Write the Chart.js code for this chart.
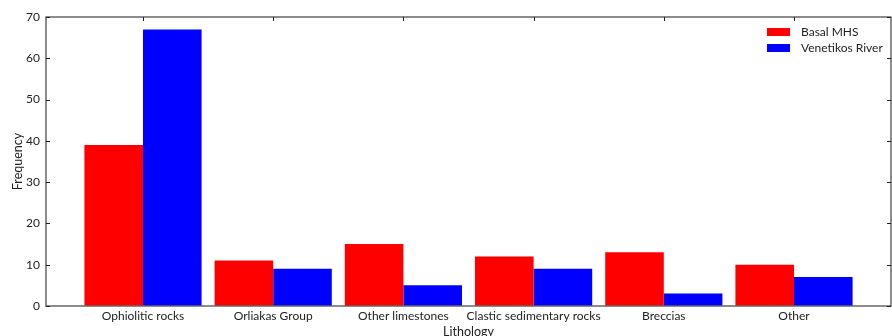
<!DOCTYPE html>
<html>
<head>
<meta charset="utf-8">
<script src="https://cdn.jsdelivr.net/npm/chart.js@4"></script>
<style>
  html, body { margin: 0; padding: 0; background: #fff; }
  #wrap { width: 892px; height: 336px; }
</style>
</head>
<body>
<div id="wrap"><canvas id="myChart" width="892" height="336"></canvas></div>
<script>
const categories = ["Ophiolitic rocks", "Orliakas Group", "Other limestones", "Clastic sedimentary rocks", "Breccias", "Other"];
const basalMHS = [39, 11, 15, 12, 13, 10];
const venetikosRiver = [67, 9, 5, 9, 3, 7];
const yTicks = [0, 10, 20, 30, 40, 50, 60, 70];

const fontFamily = "Lato, 'DejaVu Sans', sans-serif";
const textColor = "#222";
const spineColor = "#666";

Chart.defaults.font.family = fontFamily;
Chart.defaults.font.size = 12;
Chart.defaults.color = textColor;

// 枠線、内向きの目盛り、凡例を描く
const framePlugin = {
  id: "frame",
  afterDatasetsDraw(chart) {
    const c = chart.ctx;
    const a = chart.chartArea;
    const xs = chart.scales.x;
    const ys = chart.scales.y;
    c.save();
    c.strokeStyle = spineColor;
    c.lineWidth = 1.5;
    c.strokeRect(a.left, a.top, a.right - a.left, a.bottom - a.top);
    c.lineWidth = 1;
    c.strokeStyle = "#222";
    c.beginPath();
    yTicks.forEach(function (v) {
      const y = Math.round(ys.getPixelForValue(v)) + 0.5;
      c.moveTo(a.left, y);
      c.lineTo(a.left + 4, y);
      c.moveTo(a.right, y);
      c.lineTo(a.right - 4, y);
    });
    categories.forEach(function (_, i) {
      const x = Math.round(xs.getPixelForValue(i)) + 0.5;
      c.moveTo(x, a.top);
      c.lineTo(x, a.top + 4);
    });
    c.stroke();

    // 凡例
    const lx = a.right - 124;
    let ly = a.top + 11;
    chart.data.datasets.forEach(function (ds) {
      c.fillStyle = ds.backgroundColor;
      c.fillRect(lx, ly, 23, 8);
      c.fillStyle = textColor;
      c.font = "12px " + fontFamily;
      c.textBaseline = "middle";
      c.textAlign = "left";
      c.fillText(ds.label, lx + 34, ly + 4);
      ly += 16;
    });
    c.restore();
  },
};

const ctx = document.getElementById("myChart").getContext("2d");
const myChart = new Chart(ctx, {
  type: "bar",
  data: {
    datasets: [
      {
        label: "Basal MHS",
        data: basalMHS.map(function (v, i) { return { x: i, y: v }; }),
        backgroundColor: "#ff0000",
        borderWidth: 0,
      },
      {
        label: "Venetikos River",
        data: venetikosRiver.map(function (v, i) { return { x: i, y: v }; }),
        backgroundColor: "#0000ff",
        borderWidth: 0,
      },
    ],
  },
  options: {
    responsive: false,
    animation: false,
    categoryPercentage: 0.9,
    barPercentage: 1.0,
    layout: { padding: { top: 17, right: 1, left: 0, bottom: 0 } },
    plugins: {
      legend: { display: false },
      tooltip: { enabled: false },
    },
    scales: {
      x: {
        type: "linear",
        offset: false,
        min: -0.745,
        max: 5.745,
        grid: { display: false, drawTicks: false },
        border: { display: false },
        afterBuildTicks: function (scale) {
          scale.ticks = categories.map(function (_, i) { return { value: i }; });
        },
        afterFit: function (scale) {
          scale.height = 30;
        },
        ticks: {
          padding: 3,
          maxRotation: 0,
          autoSkip: false,
          callback: function (value) {
            return categories[value];
          },
        },
        title: {
          display: true,
          text: "Lithology",
          font: { size: 12.5 },
          padding: { top: 0, bottom: -3 },
        },
      },
      y: {
        min: 0,
        max: 70,
        grid: { display: false, drawTicks: false },
        border: { display: false },
        afterBuildTicks: function (scale) {
          scale.ticks = yTicks.map(function (v) { return { value: v }; });
        },
        afterFit: function (scale) {
          scale.width = 46;
        },
        ticks: { padding: 6 },
        title: {
          display: true,
          text: "Frequency",
          font: { size: 12.5 },
          padding: { top: 10, bottom: 0 },
        },
      },
    },
  },
  plugins: [framePlugin],
});
</script>
</body>
</html>
